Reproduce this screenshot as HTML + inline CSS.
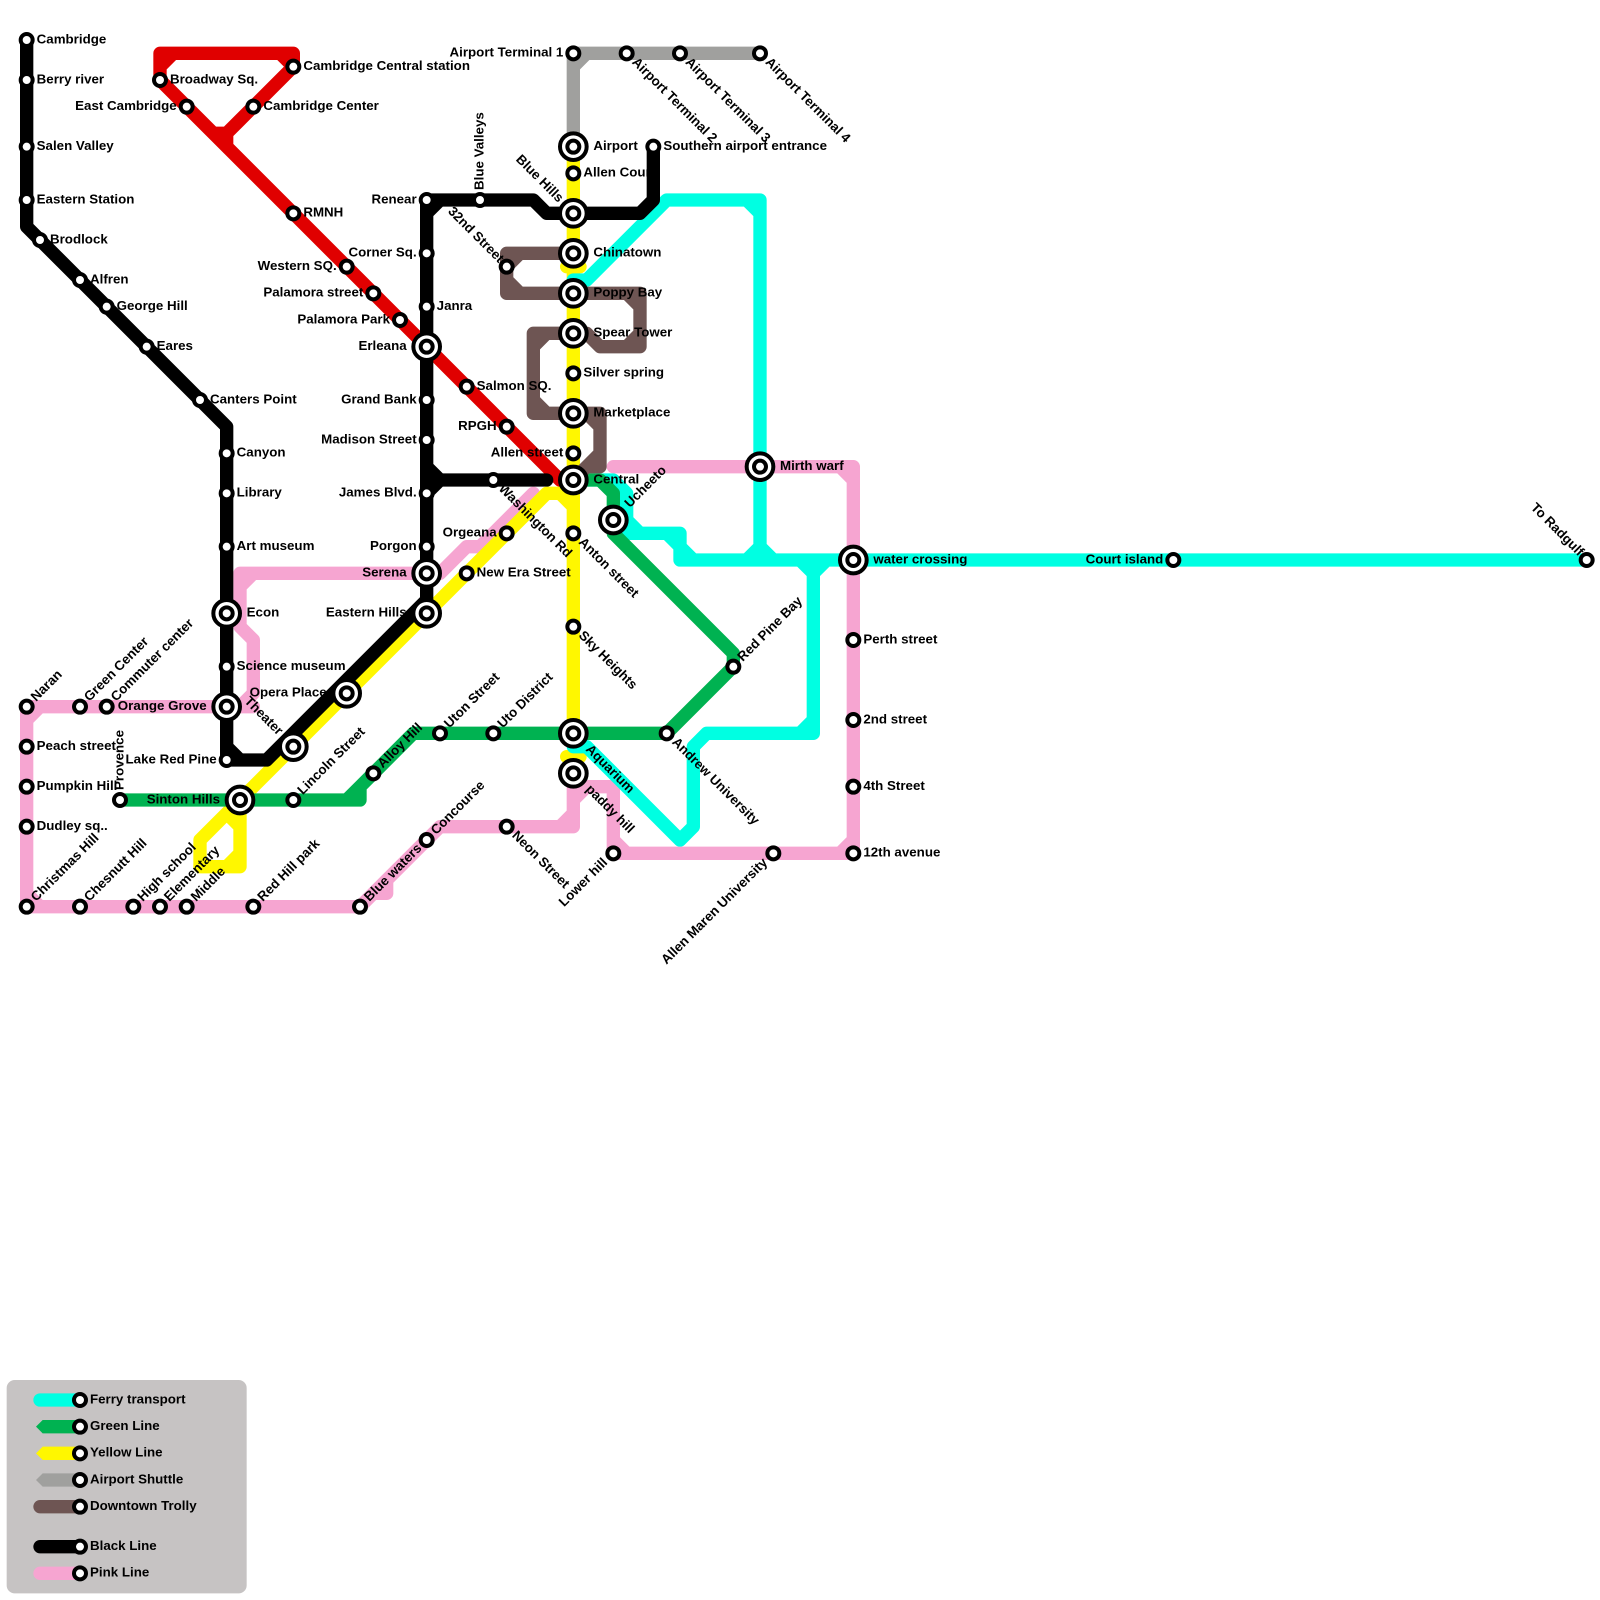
<!DOCTYPE html>
<html><head><meta charset="utf-8"><title>Metro map</title>
<style>
html,body{margin:0;padding:0;background:#fff}
svg{display:block}
.l{fill:none;stroke-width:1;stroke-linecap:round;stroke-linejoin:round}
text{font-family:"Liberation Sans",Arial,sans-serif;font-weight:bold;font-size:1px;fill:#000}
.e{text-anchor:end}
.s{fill:#fff;stroke:#000;stroke-width:.3}
</style></head><body>
<svg xmlns="http://www.w3.org/2000/svg" width="1600" height="1600" viewBox="0 0 120 120">
<!-- pink -->
<path class="l" stroke="#f6a5d1" d="M19,53H2V68H27L33,62H43V59H46V64H64V35H46M2,54L3,53M2,67L3,68M42,62L43,61M43,60L44,59M46,63L47,64M63,64L64,63M63,35L64,36M28,67H29V66M18,53L19,52V48L18,47V43H33L35,41H36L40,37M18,44L19,43"/>
<!-- yellow -->
<path class="l" stroke="#fff700" d="M43,11V55M42.5,20H43.5M42.5,56.75H43.5M43,38L42,37H41L15,63V65H18V60M17,65L18,64M17,61L18,62"/>
<!-- cyan -->
<path class="l" stroke="#00ffe2" d="M43,21H44L50,15H57V42M56,15L57,16M51,42H119M51,42V40H48L47,39V37L46,36H44M46,39L47,40H48M50,40L51,41L52,42M56,42L57,41L58,42M60,42L61,43L62,42M61,42V55H53L52,56V62L51,63L44,56H43M60,55L61,54"/>
<!-- green -->
<path class="l" stroke="#00b251" d="M43,36H45L46,37V40L55,49V50L50,55H31L27,59V60H9M26,60L27,59"/>
<!-- gray -->
<path class="l" stroke="#a0a09e" d="M43,11V4H57M43,5L44,4"/>
<!-- brown -->
<path class="l" stroke="#6e5553" d="M43,19H38V22H48V26H45L44,25H40V31H45V35H44L43,36M38,20L39,19M38,21L39,22M47,22L48,23M47,26L48,25M40,26L41,25M40,30L41,31M44,31L45,32M44,35L45,34"/>
<!-- red -->
<path class="l" stroke="#e00000" d="M12,6V4H22V5L17,10V11M16,10H17M12,5L13,4M21,4L22,5M12,6L42,36H43"/>
<!-- black -->
<path class="l" stroke="#000" d="M2,3V17L17,32V57H20L32,45V15H40L41,16H48L49,15V11M17,56L18,57M32,16L33,15M32,35L33,36L32,37M33,36H41"/>
<!-- legend -->
<rect x=".5" y="103.5" width="18" height="16" rx=".6" fill="#c6c3c3"/>
<path class="l" stroke="#00ffe2" d="M3,105H6"/>
<path fill="#00b251" d="M2.7,107L3.2,106.5H6V107.5H3.2Z"/>
<path fill="#fff700" d="M2.7,109L3.2,108.5H6V109.5H3.2Z"/>
<path fill="#a0a09e" d="M2.7,111L3.2,110.5H6V111.5H3.2Z"/>
<path class="l" stroke="#6e5553" d="M3,113H6"/>
<path class="l" stroke="#000" d="M3,116H6"/>
<path class="l" stroke="#f6a5d1" d="M3,118H6"/>
<!-- interchange outer rings -->
<g class="s" style="stroke-width:.3">
<circle cx="32" cy="26" r="1"/><circle cx="32" cy="43" r="1"/><circle cx="32" cy="46" r="1"/>
<circle cx="17" cy="46" r="1"/><circle cx="17" cy="53" r="1"/><circle cx="22" cy="56" r="1"/>
<circle cx="26" cy="52" r="1"/><circle cx="18" cy="60" r="1"/>
<circle cx="43" cy="11" r="1"/><circle cx="43" cy="16" r="1"/><circle cx="43" cy="19" r="1"/>
<circle cx="43" cy="22" r="1"/><circle cx="43" cy="25" r="1"/><circle cx="43" cy="31" r="1"/>
<circle cx="43" cy="36" r="1"/><circle cx="46" cy="39" r="1"/><circle cx="57" cy="35" r="1"/>
<circle cx="43" cy="55" r="1"/><circle cx="43" cy="58" r="1"/><circle cx="64" cy="42" r="1"/>
</g>
<!-- stations -->
<g class="s">
<circle cx="2" cy="3" r=".45"/><circle cx="2" cy="6" r=".45"/><circle cx="2" cy="11" r=".45"/><circle cx="2" cy="15" r=".45"/>
<circle cx="3" cy="18" r=".45"/><circle cx="6" cy="21" r=".45"/><circle cx="8" cy="23" r=".45"/><circle cx="11" cy="26" r=".45"/>
<circle cx="15" cy="30" r=".45"/><circle cx="17" cy="34" r=".45"/><circle cx="17" cy="37" r=".45"/><circle cx="17" cy="41" r=".45"/>
<circle cx="17" cy="46" r=".45"/><circle cx="17" cy="50" r=".45"/><circle cx="17" cy="53" r=".45"/><circle cx="17" cy="57" r=".45"/>
<circle cx="22" cy="56" r=".45"/><circle cx="26" cy="52" r=".45"/><circle cx="18" cy="60" r=".45"/>
<circle cx="32" cy="46" r=".45"/><circle cx="32" cy="43" r=".45"/><circle cx="32" cy="41" r=".45"/><circle cx="32" cy="37" r=".45"/>
<circle cx="32" cy="33" r=".45"/><circle cx="32" cy="30" r=".45"/><circle cx="32" cy="26" r=".45"/><circle cx="32" cy="23" r=".45"/>
<circle cx="32" cy="19" r=".45"/><circle cx="32" cy="15" r=".45"/><circle cx="36" cy="15" r=".45"/><circle cx="22" cy="16" r=".45"/>
<circle cx="26" cy="20" r=".45"/><circle cx="28" cy="22" r=".45"/><circle cx="30" cy="24" r=".45"/><circle cx="35" cy="29" r=".45"/>
<circle cx="12" cy="6" r=".45"/><circle cx="14" cy="8" r=".45"/><circle cx="19" cy="8" r=".45"/><circle cx="22" cy="5" r=".45"/>
<circle cx="43" cy="4" r=".45"/><circle cx="47" cy="4" r=".45"/><circle cx="51" cy="4" r=".45"/><circle cx="57" cy="4" r=".45"/>
<circle cx="43" cy="11" r=".45"/><circle cx="43" cy="13" r=".45"/><circle cx="49" cy="11" r=".45"/><circle cx="43" cy="16" r=".45"/>
<circle cx="43" cy="19" r=".45"/><circle cx="38" cy="20" r=".45"/><circle cx="43" cy="22" r=".45"/><circle cx="43" cy="25" r=".45"/>
<circle cx="43" cy="28" r=".45"/><circle cx="43" cy="31" r=".45"/><circle cx="38" cy="32" r=".45"/><circle cx="43" cy="34" r=".45"/>
<circle cx="43" cy="36" r=".45"/><circle cx="57" cy="35" r=".45"/><circle cx="37" cy="36" r=".45"/><circle cx="46" cy="39" r=".45"/>
<circle cx="43" cy="40" r=".45"/><circle cx="38" cy="40" r=".45"/><circle cx="35" cy="43" r=".45"/><circle cx="43" cy="47" r=".45"/>
<circle cx="55" cy="50" r=".45"/><circle cx="50" cy="55" r=".45"/><circle cx="37" cy="55" r=".45"/><circle cx="33" cy="55" r=".45"/>
<circle cx="28" cy="58" r=".45"/><circle cx="43" cy="55" r=".45"/><circle cx="43" cy="58" r=".45"/><circle cx="32" cy="63" r=".45"/>
<circle cx="38" cy="62" r=".45"/><circle cx="46" cy="64" r=".45"/><circle cx="58" cy="64" r=".45"/><circle cx="64" cy="64" r=".45"/>
<circle cx="64" cy="59" r=".45"/><circle cx="64" cy="54" r=".45"/><circle cx="64" cy="48" r=".45"/><circle cx="64" cy="42" r=".45"/>
<circle cx="88" cy="42" r=".45"/><circle cx="119" cy="42" r=".45"/>
<circle cx="2" cy="53" r=".45"/><circle cx="6" cy="53" r=".45"/><circle cx="8" cy="53" r=".45"/><circle cx="2" cy="56" r=".45"/>
<circle cx="2" cy="59" r=".45"/><circle cx="2" cy="62" r=".45"/><circle cx="2" cy="68" r=".45"/><circle cx="6" cy="68" r=".45"/>
<circle cx="10" cy="68" r=".45"/><circle cx="12" cy="68" r=".45"/><circle cx="14" cy="68" r=".45"/><circle cx="19" cy="68" r=".45"/>
<circle cx="27" cy="68" r=".45"/><circle cx="9" cy="60" r=".45"/><circle cx="22" cy="60" r=".45"/>
<circle cx="6" cy="105" r=".45"/><circle cx="6" cy="107" r=".45"/><circle cx="6" cy="109" r=".45"/><circle cx="6" cy="111" r=".45"/>
<circle cx="6" cy="113" r=".45"/><circle cx="6" cy="116" r=".45"/><circle cx="6" cy="118" r=".45"/>
</g>
<!-- labels: right -->
<g>
<text x="2.75" y="3.25">Cambridge</text><text x="2.75" y="6.25">Berry river</text><text x="2.75" y="11.25">Salen Valley</text><text x="2.75" y="15.25">Eastern Station</text>
<text x="3.75" y="18.25">Brodlock</text><text x="6.75" y="21.25">Alfren</text><text x="8.75" y="23.25">George Hill</text><text x="11.75" y="26.25">Eares</text>
<text x="15.75" y="30.25">Canters Point</text><text x="17.75" y="34.25">Canyon</text><text x="17.75" y="37.25">Library</text><text x="17.75" y="41.25">Art museum</text>
<text x="18.5" y="46.25">Econ</text><text x="17.75" y="50.25">Science museum</text><text x="22.75" y="16.25">RMNH</text><text x="32.75" y="23.25">Janra</text>
<text x="35.75" y="29.25">Salmon SQ.</text><text x="12.75" y="6.25">Broadway Sq.</text><text x="19.75" y="8.25">Cambridge Center</text><text x="22.75" y="5.25">Cambridge Central station</text>
<text x="44.5" y="11.25">Airport</text><text x="43.75" y="13.25">Allen Court</text><text x="49.75" y="11.25">Southern airport entrance</text>
<text x="44.5" y="19.25">Chinatown</text><text x="44.5" y="22.25">Poppy Bay</text><text x="44.5" y="25.25">Spear Tower</text><text x="43.75" y="28.25">Silver spring</text>
<text x="44.5" y="31.25">Marketplace</text><text x="44.5" y="36.25">Central</text><text x="58.5" y="35.25">Mirth warf</text><text x="35.75" y="43.25">New Era Street</text>
<text x="64.75" y="48.25">Perth street</text><text x="64.75" y="54.25">2nd street</text><text x="64.75" y="59.25">4th Street</text><text x="64.75" y="64.25">12th avenue</text>
<text x="65.5" y="42.25">water crossing</text>
<text x="2.75" y="56.25">Peach street</text><text x="2.75" y="59.25">Pumpkin Hill</text><text x="2.75" y="62.25">Dudley sq..</text>
<text x="6.75" y="105.25">Ferry transport</text><text x="6.75" y="107.25">Green Line</text><text x="6.75" y="109.25">Yellow Line</text><text x="6.75" y="111.25">Airport Shuttle</text>
<text x="6.75" y="113.25">Downtown Trolly</text><text x="6.75" y="116.25">Black Line</text><text x="6.75" y="118.25">Pink Line</text>
</g>
<!-- labels: left -->
<g class="e">
<text class="e" x="13.25" y="8.25">East Cambridge</text><text class="e" x="25.25" y="20.25">Western SQ.</text><text class="e" x="27.25" y="22.25">Palamora street</text>
<text class="e" x="29.25" y="24.25">Palamora Park</text><text class="e" x="30.5" y="26.25">Erleana</text><text class="e" x="31.25" y="19.25">Corner Sq.</text>
<text class="e" x="31.25" y="15.25">Renear</text><text class="e" x="31.25" y="30.25">Grand Bank</text><text class="e" x="31.25" y="33.25">Madison Street</text>
<text class="e" x="31.25" y="37.25">James Blvd.</text><text class="e" x="31.25" y="41.25">Porgon</text><text class="e" x="30.5" y="43.25">Serena</text>
<text class="e" x="30.5" y="46.25">Eastern Hills</text><text class="e" x="24.5" y="52.25">Opera Place</text><text class="e" x="16.5" y="60.25">Sinton Hills</text>
<text class="e" x="15.5" y="53.25">Orange Grove</text><text class="e" x="16.25" y="57.25">Lake Red Pine</text><text class="e" x="37.25" y="32.25">RPGH</text>
<text class="e" x="42.25" y="34.25">Allen street</text><text class="e" x="37.25" y="40.25">Orgeana</text><text class="e" x="42.25" y="4.25">Airport Terminal 1</text>
<text class="e" x="87.25" y="42.25">Court island</text>
</g>
<!-- labels: rotated -45 -->
<g>
<text transform="translate(2 53) rotate(-45)" x=".75" y=".25">Naran</text>
<text transform="translate(6 53) rotate(-45)" x=".75" y=".25">Green Center</text>
<text transform="translate(8 53) rotate(-45)" x=".75" y=".25">Commuter center</text>
<text transform="translate(2 68) rotate(-45)" x=".75" y=".25">Christmas Hill</text>
<text transform="translate(6 68) rotate(-45)" x=".75" y=".25">Chesnutt Hill</text>
<text transform="translate(10 68) rotate(-45)" x=".75" y=".25">High school</text>
<text transform="translate(12 68) rotate(-45)" x=".75" y=".25">Elementary</text>
<text transform="translate(14 68) rotate(-45)" x=".75" y=".25">Middle</text>
<text transform="translate(19 68) rotate(-45)" x=".75" y=".25">Red Hill park</text>
<text transform="translate(27 68) rotate(-45)" x=".75" y=".25">Blue waters</text>
<text transform="translate(32 63) rotate(-45)" x=".75" y=".25">Concourse</text>
<text transform="translate(22 60) rotate(-45)" x=".75" y=".25">Lincoln Street</text>
<text transform="translate(28 58) rotate(-45)" x=".75" y=".25">Alloy Hill</text>
<text transform="translate(33 55) rotate(-45)" x=".75" y=".25">Uton Street</text>
<text transform="translate(37 55) rotate(-45)" x=".75" y=".25">Uto District</text>
<text transform="translate(55 50) rotate(-45)" x=".75" y=".25">Red Pine Bay</text>
<text transform="translate(46 39) rotate(-45)" x="1.5" y=".25">Ucheeto</text>
<text class="e" transform="translate(46 64) rotate(-45)" x="-.8" y=".25">Lower hill</text>
<text class="e" transform="translate(58 64) rotate(-45)" x="-.8" y=".25">Allen Maren University</text>
<!-- rotated +45 -->
<text transform="translate(47 4) rotate(45)" x=".75" y=".25">Airport Terminal 2</text>
<text transform="translate(51 4) rotate(45)" x=".75" y=".25">Airport Terminal 3</text>
<text transform="translate(57 4) rotate(45)" x=".75" y=".25">Airport Terminal 4</text>
<text transform="translate(37 36) rotate(45)" x=".75" y=".25">Washington Rd</text>
<text transform="translate(43 40) rotate(45)" x=".75" y=".25">Anton street</text>
<text transform="translate(43 47) rotate(45)" x=".75" y=".25">Sky Heights</text>
<text transform="translate(50 55) rotate(45)" x=".75" y=".25">Andrew University</text>
<text transform="translate(38 62) rotate(45)" x=".75" y=".25">Neon Street</text>
<text transform="translate(43 55) rotate(45)" x="1.5" y=".25">Aquarium</text>
<text transform="translate(43 58) rotate(45)" x="1.5" y=".25">paddy hill</text>
<text class="e" transform="translate(43 16) rotate(45)" x="-1.35" y=".25">Blue Hills</text>
<text class="e" transform="translate(38 20) rotate(45)" x="-.6" y=".25">32nd Street</text>
<text class="e" transform="translate(22 56) rotate(45)" x="-1.4" y=".25">Theater</text>
<text class="e" transform="translate(119 42) rotate(45)" x="-.6" y=".25">To Radgulf</text>
<!-- rotated -90 -->
<text transform="translate(36 15) rotate(-90)" x=".75" y=".25">Blue Valleys</text>
<text transform="translate(9 60) rotate(-90)" x=".75" y=".25">Provence</text>
</g>
</svg>
</body></html>
